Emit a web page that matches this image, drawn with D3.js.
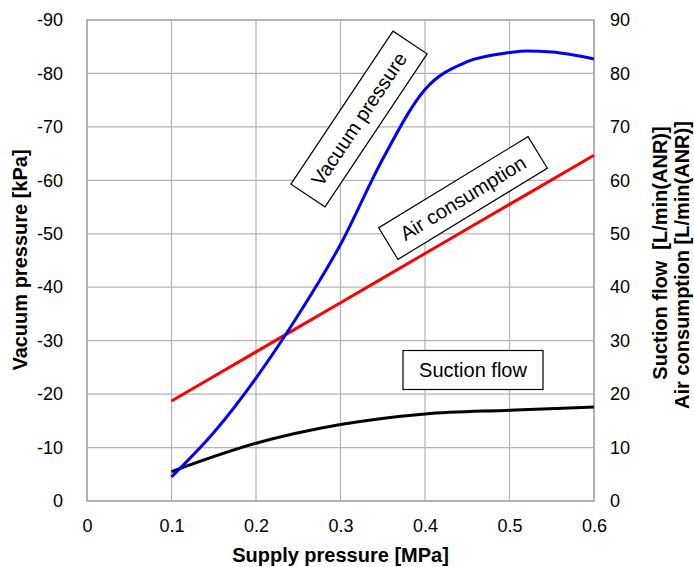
<!DOCTYPE html>
<html>
<head>
<meta charset="utf-8">
<script src="https://cdn.jsdelivr.net/npm/d3@7"></script>
<style>
  body { margin: 0; background: #fff; }
  text { font-family: "Liberation Sans", Arial, sans-serif; }
</style>
</head>
<body>
<div id="chart"></div>
<script>
// supply pressure [MPa]
var supply = [0.1, 0.15, 0.2, 0.25, 0.3, 0.35, 0.4, 0.45, 0.5, 0.52, 0.55, 0.6];
// vacuum pressure magnitude [kPa] (shown as negative)
var vacuum = [4.5, 12.8, 23, 34.8, 48, 64, 77, 82.2, 83.9, 84.2, 84, 82.7];
var airSupply = [0.1, 0.2, 0.3, 0.4, 0.5, 0.6];
var airConsumption = [18.7, 27.9, 37.1, 46.3, 55.5, 64.7];
var suctionFlow = [5.5, 10.8, 14.3, 16.3, 17, 17.6];

var xTicks = [0, 0.1, 0.2, 0.3, 0.4, 0.5, 0.6];
var yTicks = [0, 10, 20, 30, 40, 50, 60, 70, 80, 90];

var W = 694, H = 567;
var margin = {top: 20, right: 100, bottom: 66, left: 87},
    width = W - margin.left - margin.right,
    height = H - margin.top - margin.bottom;

var svg = d3.select("#chart").append("svg")
    .attr("width", W).attr("height", H);

var g = svg.append("g")
    .attr("transform", "translate(" + margin.left + "," + margin.top + ")");

var x = d3.scaleLinear().domain([0, 0.6]).range([0, width]);
var y = d3.scaleLinear().domain([0, 90]).range([height, 0]);

// grid
g.selectAll(".vg").data(xTicks).enter().append("line")
    .attr("x1", d => x(d)).attr("x2", d => x(d))
    .attr("y1", 0).attr("y2", height)
    .attr("stroke", "#b3b3b3").attr("stroke-width", 1.2);
g.selectAll(".hg").data(yTicks).enter().append("line")
    .attr("x1", 0).attr("x2", width)
    .attr("y1", d => y(d)).attr("y2", d => y(d))
    .attr("stroke", "#b3b3b3").attr("stroke-width", 1.2);

// axes
var fmtLeft = d => d === 0 ? "0" : "-" + d;
var left = g.append("g").call(d3.axisLeft(y).tickValues(yTicks).tickFormat(fmtLeft).tickSize(0).tickPadding(24));
var right = g.append("g").attr("transform", "translate(" + width + ",0)")
    .call(d3.axisRight(y).tickValues(yTicks).tickSize(0).tickPadding(16));
var bottom = g.append("g").attr("transform", "translate(0," + height + ")")
    .call(d3.axisBottom(x).tickValues(xTicks).tickFormat(d => d === 0 ? "0" : d3.format(".1f")(d)).tickSize(0).tickPadding(18));
[left, right, bottom].forEach(a => {
  a.select(".domain").remove();
  a.selectAll("text").attr("font-size", 18).attr("fill", "#000")
    .style("font-family", "'Liberation Sans', Arial, sans-serif");
});

// border
g.append("rect").attr("width", width).attr("height", height)
    .attr("fill", "none").attr("stroke", "#a6a6a6").attr("stroke-width", 1.5);

// lines
var line = d3.line().x(d => x(d[0])).y(d => y(d[1])).curve(d3.curveMonotoneX);

g.append("path").datum(airSupply.map((s, i) => [s, airConsumption[i]]))
    .attr("d", line).attr("fill", "none").attr("stroke", "#ff0000").attr("stroke-width", 3);
g.append("path").datum(airSupply.map((s, i) => [s, suctionFlow[i]]))
    .attr("d", line).attr("fill", "none").attr("stroke", "#000").attr("stroke-width", 3);
g.append("path").datum(supply.map((s, i) => [s, vacuum[i]]))
    .attr("d", line).attr("fill", "none").attr("stroke", "#0000ff").attr("stroke-width", 3);

// annotation boxes
function label(txt, cx, cy, w, h, angle) {
  var lg = svg.append("g").attr("transform", "translate(" + cx + "," + cy + ") rotate(" + angle + ")");
  lg.append("rect").attr("x", -w / 2).attr("y", -h / 2).attr("width", w).attr("height", h)
    .attr("fill", "#fff").attr("stroke", "#000").attr("stroke-width", 1.2);
  lg.append("text").attr("text-anchor", "middle").attr("dy", "0.35em")
    .attr("font-size", 20).text(txt);
}
label("Vacuum pressure", 359, 119, 184, 41, -56.3);
label("Air consumption", 463, 198, 175, 37, -31.4);
label("Suction flow", 473, 370, 140, 39, 0);

// axis titles
svg.append("text").attr("transform", "translate(27,260) rotate(-90)")
    .attr("text-anchor", "middle").attr("font-size", 20).attr("font-weight", "bold")
    .text("Vacuum pressure [kPa]");
svg.append("text").attr("x", margin.left + width / 2).attr("y", 562)
    .attr("text-anchor", "middle").attr("font-size", 20).attr("font-weight", "bold")
    .text("Supply pressure [MPa]");
svg.append("text").attr("transform", "translate(667,253) rotate(-90)")
    .attr("text-anchor", "middle").attr("font-size", 20).attr("font-weight", "bold")
    .attr("xml:space", "preserve")
    .text("Suction flow  [L/min(ANR)]");
svg.append("text").attr("transform", "translate(689,265) rotate(-90)")
    .attr("text-anchor", "middle").attr("font-size", 20).attr("font-weight", "bold")
    .text("Air consumption [L/min(ANR)]");
</script>
</body>
</html>
